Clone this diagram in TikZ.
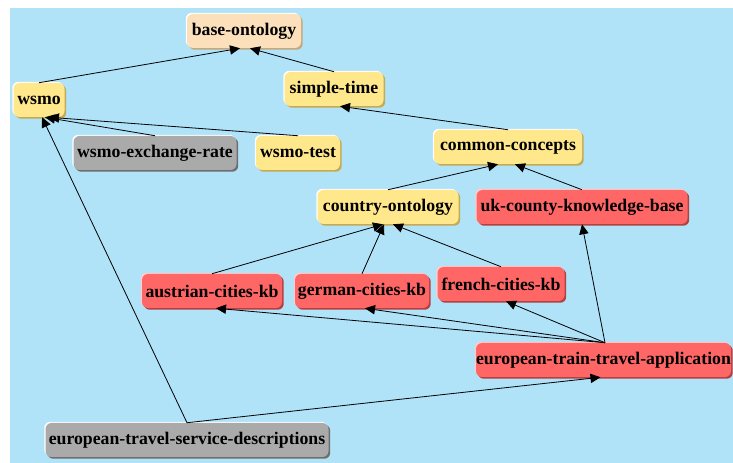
\documentclass[tikz,border=0pt]{standalone}
\usepackage{fontspec}
\setmainfont{Liberation Serif}
\usetikzlibrary{arrows.meta,shadows,calc}
\definecolor{bgblue}{RGB}{176,226,248}
\definecolor{yelF}{RGB}{255,231,140}
\definecolor{yelD}{RGB}{196,170,84}
\definecolor{peaF}{RGB}{252,224,188}
\definecolor{peaD}{RGB}{196,168,128}
\definecolor{redF}{RGB}{255,102,102}
\definecolor{redD}{RGB}{180,64,64}
\definecolor{redL}{RGB}{255,205,205}
\definecolor{grayF}{RGB}{170,170,170}
\definecolor{grayD}{RGB}{110,110,110}
\tikzset{
  box/.style={rounded corners=4.5pt, minimum height=25.5pt, inner sep=0pt,
    font=\fontsize{13.3}{15}\selectfont\bfseries, text=black},
  yel/.style={box, fill=yelF,
    general shadow={fill=yelD, shadow xshift=1.3pt, shadow yshift=-1.3pt},
    general shadow={fill=white, shadow xshift=-0.9pt, shadow yshift=0.9pt}},
  pea/.style={box, fill=peaF,
    general shadow={fill=peaD, shadow xshift=1.3pt, shadow yshift=-1.3pt},
    general shadow={fill=white, shadow xshift=-0.9pt, shadow yshift=0.9pt}},
  redn/.style={box, fill=redF,
    general shadow={fill=redD, shadow xshift=1.3pt, shadow yshift=-1.3pt},
    general shadow={fill=redL, shadow xshift=-0.9pt, shadow yshift=0.9pt}},
  grayn/.style={box, fill=grayF,
    general shadow={fill=grayD, shadow xshift=1.3pt, shadow yshift=-1.3pt},
    general shadow={fill=white, shadow xshift=-0.9pt, shadow yshift=0.9pt}},
  edge/.style={draw=black, line width=0.6pt, -{Triangle[length=7.5pt,width=7pt]}},
}
\begin{document}
\begin{tikzpicture}[x=0.75pt,y=-0.75pt]
\useasboundingbox (0,0) rectangle (733,463);
\fill[white] (0,0) rectangle (733,463);
\fill[bgblue] (10,8) rectangle (733,463);

\node[pea,  minimum width=85.5pt]   (base)   at (244,31)  {base-ontology};
\node[yel,  minimum width=38.25pt]  (wsmo)   at (39,100)  {wsmo};
\node[yel,  minimum width=74.25pt]  (simple) at (334,89)  {simple-time};
\node[grayn,minimum width=122.25pt] (wer)    at (155,153) {wsmo-exchange-rate};
\node[yel,  minimum width=63pt]     (wtest)  at (298,153) {wsmo-test};
\node[yel,  minimum width=111pt]    (cc)     at (508,147) {common-concepts};
\node[yel,  minimum width=105.75pt] (co)     at (388,207) {country-ontology};
\node[redn, minimum width=158.25pt] (uk)     at (582,207) {uk-county-knowledge-base};
\node[redn, minimum width=105pt]    (aus)    at (212,291) {austrian-cities-kb};
\node[redn, minimum width=100.5pt]  (ger)    at (362,291) {german-cities-kb};
\node[redn, minimum width=95.25pt]  (fr)     at (501,284) {french-cities-kb};
\node[redn, minimum width=191.25pt] (etta)   at (603.5,360) {european-train-travel-application};
\node[grayn,minimum width=212.25pt] (etsd)   at (187,440) {european-travel-service-descriptions};

\draw[edge] (wsmo.north) -- ($(base.south)+(-4,0)$);
\draw[edge] (simple.north) -- ($(base.south)+(6,0)$);
\draw[edge] (cc.north) -- ($(simple.south)+(6,0)$);
\draw[edge] (wer.north) -- ($(wsmo.south)+(6,0)$);
\draw[edge] (wtest.north) -- ($(wsmo.south)+(10,0)$);
\draw[edge] (etsd.north) -- ($(wsmo.south)+(3,0)$);
\draw[edge] (co.north) -- ($(cc.south)+(-10,0)$);
\draw[edge] (uk.north) -- ($(cc.south)+(7,0)$);
\draw[edge] (aus.north) -- ($(co.south)+(-5,0)$);
\draw[edge] (ger.north) -- ($(co.south)+(-4,0)$);
\draw[edge] (fr.north) -- ($(co.south)+(5,0)$);
\draw[edge] ($(etta.north)+(1.5,0)$) -- ($(aus.south)+(4,0)$);
\draw[edge] ($(etta.north)+(1.5,0)$) -- ($(ger.south)+(3,0)$);
\draw[edge] ($(etta.north)+(1.5,0)$) -- ($(fr.south)+(5,0)$);
\draw[edge] ($(etta.north)+(1.5,0)$) -- (uk.south);
\draw[edge] (etsd.north) -- ($(etta.south)+(-3,0)$);
\end{tikzpicture}
\end{document}
